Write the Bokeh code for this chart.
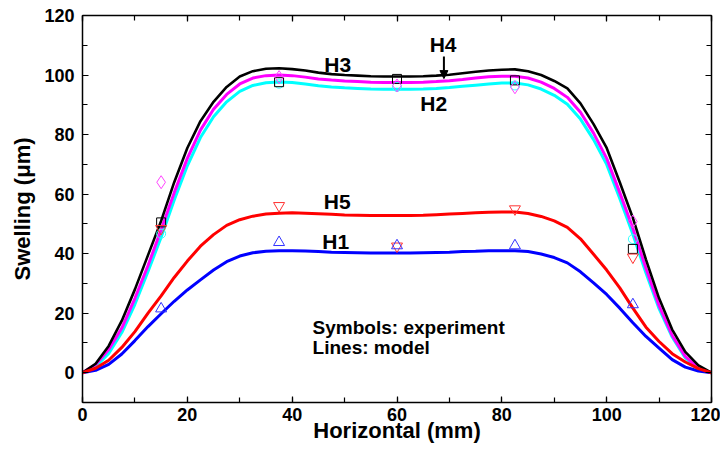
from bokeh.plotting import figure
from bokeh.models import LinearAxis, SingleIntervalTicker, Range1d, Arrow, NormalHead
from bokeh.core.properties import value
from bokeh.embed import file_html
from bokeh.resources import INLINE

FONT = "Liberation Sans"

# ---------------- data ----------------
x_model = [0, 2.5, 5, 7.5, 10, 12.5, 15, 17.5, 20, 22.5, 25, 27.5, 30, 32.5, 35, 37.5,
           40, 42.5, 45, 47.5, 50, 52.5, 55, 57.5, 60, 62.5, 65, 67.5, 70, 72.5, 75, 77.5,
           80, 82.5, 85, 87.5, 90, 92.5, 95, 97.5, 100, 102.5, 105, 107.5, 110, 112.5,
           115, 117.5, 120]

h3_model = [0, 3, 9, 17.5, 28, 39.5, 51, 64, 75.5, 84.5, 91, 96, 99.5, 101.3, 102.1, 102.3,
            102, 101.5, 100.8, 100.3, 100, 99.8, 99.6, 99.5, 99.5, 99.5, 99.6, 99.8, 100.1,
            100.6, 101.1, 101.5, 101.8, 101.9, 101.3, 100.0, 98.0, 95.5, 90.5, 83.5, 75.5,
            64, 52, 38, 25, 14.5, 7, 2.5, 0]

h4_model = [0, 2.8, 7.8, 15, 25, 36, 48, 60.5, 72, 81.5, 88.5, 93.5, 97, 99, 99.8, 100,
            99.8, 99.3, 98.7, 98.3, 98, 97.8, 97.6, 97.5, 97.5, 97.5, 97.6, 97.8, 98.1, 98.5,
            99, 99.4, 99.6, 99.6, 99.0, 97.6, 95.5, 92.5, 87.5, 80.5, 72, 60.5, 48.5, 35,
            22.5, 12.5, 5.5, 1.5, 0]

h2_model = [0, 2, 6.5, 13.5, 23, 34, 45.5, 58, 69.5, 79, 86, 91, 94.5, 96.5, 97.4, 97.7,
            97.5, 97, 96.4, 96, 95.7, 95.5, 95.3, 95.2, 95.2, 95.2, 95.3, 95.5, 95.8, 96.2,
            96.6, 97, 97.3, 97.3, 96.7, 95.3, 93.2, 90.2, 85.2, 78.3, 70, 58.5, 46.5, 33.5,
            21.5, 12, 5, 1.3, 0]

h5_model = [0, 1.5, 4.2, 8.5, 13.8, 20, 25.8, 32, 37.5, 42.5, 46.4, 49.5, 51.4, 52.6, 53.3,
            53.6, 53.7, 53.6, 53.4, 53.2, 53, 52.9, 52.8, 52.8, 52.8, 52.8, 52.9, 53.1, 53.3,
            53.5, 53.7, 53.9, 54, 54, 53.5, 52.5, 51, 48.8, 45, 39.8, 34.5, 28.5, 21.7, 15.3,
            10.5, 6.4, 3.6, 1.4, 0]

h1_model = [0, 0.8, 2.8, 6.3, 10.8, 15.5, 19.8, 24, 27.8, 31.2, 34.5, 37.3, 39.2, 40.3,
            40.8, 41, 41, 40.9, 40.7, 40.5, 40.4, 40.3, 40.2, 40.2, 40.2, 40.2, 40.3, 40.4,
            40.5, 40.7, 40.8, 41, 41, 41, 40.7, 39.9, 38.7, 36.9, 33.9, 30.2, 26.3, 21.7,
            16.8, 12.2, 8.3, 4.4, 1.9, 0.6, 0]

x_exp = [15, 37.5, 60, 82.5, 105]
h1_exp = [21.5, 43.8, 42.7, 42.7, 22.9]
h5_exp = [48.4, 56.1, 42.5, 55.0, 38.8]
h2_exp = [46.7, 97.1, 96.0, 96.5, 44.9]
h3_exp = [50.5, 97.6, 98.7, 98.2, 41.6]
h4_exp = [64.0, 99.3, 96.5, 95.9, 50.8]

curve_labels = ["H3", "H4", "H2", "H5", "H1"]
label_x = [48.7, 68.8, 67.0, 48.6, 48.3]
label_y = [103.5, 110.3, 90.3, 57.6, 44.1]

note_lines = ["Symbols: experiment", "Lines: model"]
note_x = [43.9, 43.9]
note_y = [15.2, 8.6]

x_ticks_interval = 20
y_ticks_interval = 20

# ---------------- figure ----------------
p = figure(width=720, height=446, output_backend="svg", toolbar_location=None,
           x_range=Range1d(0, 120), y_range=Range1d(-10, 120),
           min_border_left=82, min_border_right=9, min_border_top=15, min_border_bottom=44)
p.xgrid.visible = False
p.ygrid.visible = False
p.outline_line_color = None
p.background_fill_color = "white"
p.border_fill_color = "white"


def style_axis(ax, labels=True):
    ax.axis_line_color = "black"
    ax.axis_line_width = 1.5
    ax.major_tick_in = 6
    ax.major_tick_out = 0
    ax.minor_tick_in = 5
    ax.minor_tick_out = 0
    ax.major_tick_line_width = 1.2
    ax.minor_tick_line_width = 1.2
    ax.major_tick_line_color = "black"
    ax.minor_tick_line_color = "black"
    ax.major_label_text_font = FONT
    ax.major_label_text_font_style = "bold"
    ax.major_label_text_font_size = "18px"
    ax.major_label_text_color = "black"
    ax.axis_label_text_font = FONT
    ax.axis_label_text_font_style = "bold"
    ax.axis_label_text_font_size = "22px"
    ax.axis_label_text_color = "black"
    if not labels:
        ax.major_label_text_color = None
        ax.major_label_standoff = 0


p.xaxis.ticker = SingleIntervalTicker(interval=x_ticks_interval, num_minor_ticks=2)
p.yaxis.ticker = SingleIntervalTicker(interval=y_ticks_interval, num_minor_ticks=2)
p.xaxis.axis_label = "Horizontal (mm)"
p.yaxis.axis_label = "Swelling (\u03bcm)"
style_axis(p.xaxis[0])
style_axis(p.yaxis[0])
p.xaxis.major_label_standoff = 5
p.yaxis.major_label_standoff = 8
p.xaxis.axis_label_standoff = -6
p.yaxis.axis_label_standoff = 6

top = LinearAxis(ticker=SingleIntervalTicker(interval=x_ticks_interval, num_minor_ticks=2))
right = LinearAxis(ticker=SingleIntervalTicker(interval=y_ticks_interval, num_minor_ticks=2))
style_axis(top, labels=False)
style_axis(right, labels=False)
p.add_layout(top, "above")
p.add_layout(right, "right")

# model lines
p.line(x_model, h2_model, line_color="#00ffff", line_width=3)
p.line(x_model, h4_model, line_color="#ff00ff", line_width=3)
p.line(x_model, h3_model, line_color="black", line_width=2.6)
p.line(x_model, h1_model, line_color="#0000ff", line_width=3)
p.line(x_model, h5_model, line_color="#ff0000", line_width=3)

# experiment symbols
p.scatter(x_exp, h2_exp, marker="circle", size=9, line_color="#33ffff", fill_alpha=0, line_width=1)
p.scatter(x_exp, h3_exp, marker="square", size=9, line_color="black", fill_alpha=0, line_width=1)
p.scatter(x_exp, h4_exp, marker="diamond", size=13, line_color="#ff44ff", fill_alpha=0, line_width=1)
p.scatter(x_exp, h5_exp, marker="inverted_triangle", size=11, line_color="#ff3333", fill_alpha=0, line_width=1)
p.scatter(x_exp, h1_exp, marker="triangle", size=11, line_color="#3333ff", fill_alpha=0, line_width=1)

# curve labels
p.text(x=label_x, y=label_y, text=curve_labels, text_font=value(FONT), text_font_style="bold",
       text_font_size="21px", text_align="center", text_baseline="middle", text_color="black")

# arrow to H4 curve
p.add_layout(Arrow(end=NormalHead(size=8, fill_color="black", line_color="black"),
                   x_start=68.95, y_start=106.2, x_end=68.95, y_end=98.8,
                   line_width=2, line_color="black"))

# note
p.text(x=note_x, y=note_y, text=note_lines, text_font=value(FONT), text_font_style="bold",
       text_font_size="19px", text_align="left", text_baseline="middle", text_color="black")

open("out.html", "w").write(file_html(p, INLINE))
